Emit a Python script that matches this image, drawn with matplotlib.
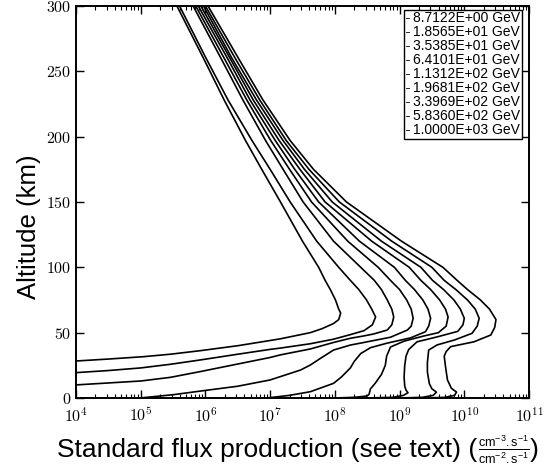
import numpy as np
import matplotlib
matplotlib.use('Agg')
import matplotlib.pyplot as plt
from matplotlib.ticker import FixedLocator, FuncFormatter, LogLocator, NullFormatter

plt.rcParams['mathtext.fontset'] = 'cm'
plt.rcParams['mathtext.rm'] = 'Liberation Sans'
plt.rcParams['mathtext.it'] = 'Liberation Sans'
plt.rcParams['mathtext.sf'] = 'Liberation Sans'
plt.rcParams['font.family'] = ['Liberation Sans', 'DejaVu Sans']

energies = ['8.7122E+00 GeV', '1.8565E+01 GeV', '3.5385E+01 GeV',
            '6.4101E+01 GeV', '1.1312E+02 GeV', '1.9681E+02 GeV',
            '3.3969E+02 GeV', '5.8360E+02 GeV', '1.0000E+03 GeV']

# upper branch altitudes (km), from the top of the chart down towards the nose
alt_upper = [300, 260, 228, 197, 175, 150, 120, 100, 90, 83, 75, 68]

# log10(flux) of each curve at alt_upper
logflux_upper = [
    [5.56, 5.97, 6.29, 6.62, 6.87, 7.16, 7.50, 7.75, 7.85, 7.93, 8.01, 8.06],
    [5.60, 6.01, 6.35, 6.72, 7.00, 7.31, 7.72, 8.06, 8.24, 8.37, 8.49, 8.57],
    [5.81, 6.24, 6.58, 6.93, 7.20, 7.51, 7.98, 8.40, 8.61, 8.72, 8.81, 8.88],
    [5.85, 6.29, 6.64, 7.01, 7.30, 7.64, 8.20, 8.67, 8.86, 9.00, 9.11, 9.18],
    [5.89, 6.34, 6.69, 7.08, 7.38, 7.75, 8.38, 8.92, 9.09, 9.23, 9.36, 9.44],
    [5.93, 6.38, 6.74, 7.14, 7.46, 7.85, 8.57, 9.15, 9.33, 9.48, 9.62, 9.71],
    [5.97, 6.41, 6.79, 7.20, 7.53, 7.96, 8.72, 9.33, 9.51, 9.68, 9.84, 9.94],
    [6.00, 6.46, 6.84, 7.25, 7.60, 8.07, 8.88, 9.50, 9.69, 9.87, 10.05, 10.17],
    [6.04, 6.51, 6.89, 7.31, 7.67, 8.18, 9.03, 9.67, 9.89, 10.05, 10.25, 10.39],
]

# nose and lower branch: log10(flux) and altitude (km)
lower_logflux = [
    [8.09, 8.06, 7.98, 7.80, 7.62, 7.16, 7.00, 6.50, 5.92, 5.46, 5.04, 4.50, 4.00],
    [8.63, 8.58, 8.45, 8.24, 7.98, 7.62, 7.16, 7.00, 6.50, 5.92, 5.46, 5.00, 4.50, 4.00],
    [8.91, 8.88, 8.81, 8.60, 8.45, 8.24, 7.98, 7.62, 7.16, 7.00, 6.50, 5.92, 5.46, 5.00, 4.00],
    [9.21, 9.18, 9.12, 8.86, 8.45, 8.24, 7.98, 7.78, 7.62, 7.47, 7.00, 6.50, 5.97, 5.50, 4.99],
    [9.48, 9.45, 9.40, 9.17, 8.81, 8.55, 8.40, 8.30, 8.24, 8.10, 7.98, 7.62, 7.30, 6.95],
    [9.75, 9.72, 9.60, 9.38, 9.07, 8.86, 8.80, 8.78, 8.72, 8.62, 8.55, 8.53, 8.50, 8.30, 8.00],
    [10.00, 9.98, 9.90, 9.60, 9.27, 9.14, 9.10, 9.08, 9.07, 9.08, 9.10, 9.13, 9.06, 8.90, 8.50],
    [10.23, 10.20, 10.12, 9.85, 9.58, 9.45, 9.43, 9.43, 9.46, 9.50, 9.57, 9.52, 9.35, 9.00],
    [10.49, 10.47, 10.41, 10.15, 9.79, 9.72, 9.69, 9.71, 9.74, 9.80, 9.88, 9.85, 9.70, 9.40],
]
lower_alt = [
    [65, 60, 57, 53, 50, 45.3, 44, 40, 36.2, 33.5, 31.6, 29.8, 28.3],
    [62, 56, 51.5, 48.5, 45, 41.5, 38.2, 37.2, 33.5, 29.1, 25.8, 23, 21, 19.4],
    [62, 56, 52, 49, 47.5, 45.7, 42.5, 37.5, 33, 31, 26, 20.2, 15.8, 13, 10],
    [61, 55, 52, 46.5, 42.5, 40.5, 36.7, 30.4, 25.2, 21.4, 13.8, 9, 5.6, 2.5, 0],
    [61, 55, 50.7, 46, 42, 38.5, 34, 28, 23, 16, 11.2, 4.8, 2, 0],
    [62, 55, 50, 47.5, 43.5, 39, 32, 25, 18, 11, 7, 3, 1.5, 0.5, 0],
    [61, 56, 51, 47, 43, 37, 32, 25, 16, 9, 6, 4, 2, 0.5, 0],
    [61, 55, 49.5, 44.4, 40.6, 36.7, 27, 20, 11, 7, 4.5, 2, 0.5, 0],
    [60, 54, 48.2, 43, 39.3, 35.5, 32, 24, 13.8, 7.5, 4.5, 2, 0.5, 0],
]

fig = plt.figure(figsize=(5.44, 4.73), dpi=100)
ax = fig.add_axes([0.1397, 0.1586, 0.8327, 0.8287])

for i, label in enumerate(energies):
    lf = np.array(logflux_upper[i] + lower_logflux[i])
    al = np.array(alt_upper + lower_alt[i])
    ax.plot(10 ** lf, al, color='black', lw=1.2, label=label)

ax.set_xscale('log')
ax.set_xlim(1e4, 1e11)
ax.set_ylim(0, 300)

ax.xaxis.set_major_locator(LogLocator(base=10, numticks=20))
ax.xaxis.set_minor_locator(LogLocator(base=10, subs=np.arange(2, 10), numticks=20))
ax.xaxis.set_minor_formatter(NullFormatter())
ax.xaxis.set_major_formatter(FuncFormatter(lambda v, p: r'$10^{%d}$' % round(np.log10(v))))
ax.yaxis.set_major_locator(FixedLocator([0, 50, 100, 150, 200, 250, 300]))
ax.yaxis.set_major_formatter(FuncFormatter(lambda v, p: r'$%d$' % v))

ax.tick_params(which='both', direction='in', top=True, right=True, labelsize=11.5)
ax.tick_params(which='major', length=6, width=1)
ax.tick_params(which='minor', length=3, width=0.8)
ax.tick_params(axis='x', pad=6)
for s in ax.spines.values():
    s.set_linewidth(1.4)

ax.set_ylabel('Altitude (km)', fontsize=18.5)
ax.yaxis.set_label_coords(-0.077, 0.437)

lab = ax.set_xlabel('Standard flux production (see text) (', fontsize=19)
ax.xaxis.set_label_coords(0.421, -0.103)
frac = ax.annotate(r'$\frac{\mathrm{cm}^{-3}.\mathrm{s}^{-1}}{\mathrm{cm}^{-2}.\mathrm{s}^{-1}}$',
                   xy=(1, 0.5), xycoords=lab, xytext=(0.5, 0), textcoords='offset points',
                   ha='left', va='center', fontsize=13, math_fontfamily='custom')
ax.annotate(')', xy=(1, 0.5), xycoords=frac, xytext=(0.5, 0), textcoords='offset points',
            ha='left', va='center', fontsize=19)

leg = ax.legend(loc='upper right', bbox_to_anchor=(0.9845, 0.9898), borderaxespad=0,
                fontsize=10, handlelength=0.2, handletextpad=0.35, labelspacing=0.0,
                borderpad=0.1, fancybox=False, framealpha=1, edgecolor='black')
leg.get_frame().set_linewidth(1.0)
for h in leg.get_lines():
    h.set_linewidth(0.6)

fig.savefig('out.png', dpi=100)
